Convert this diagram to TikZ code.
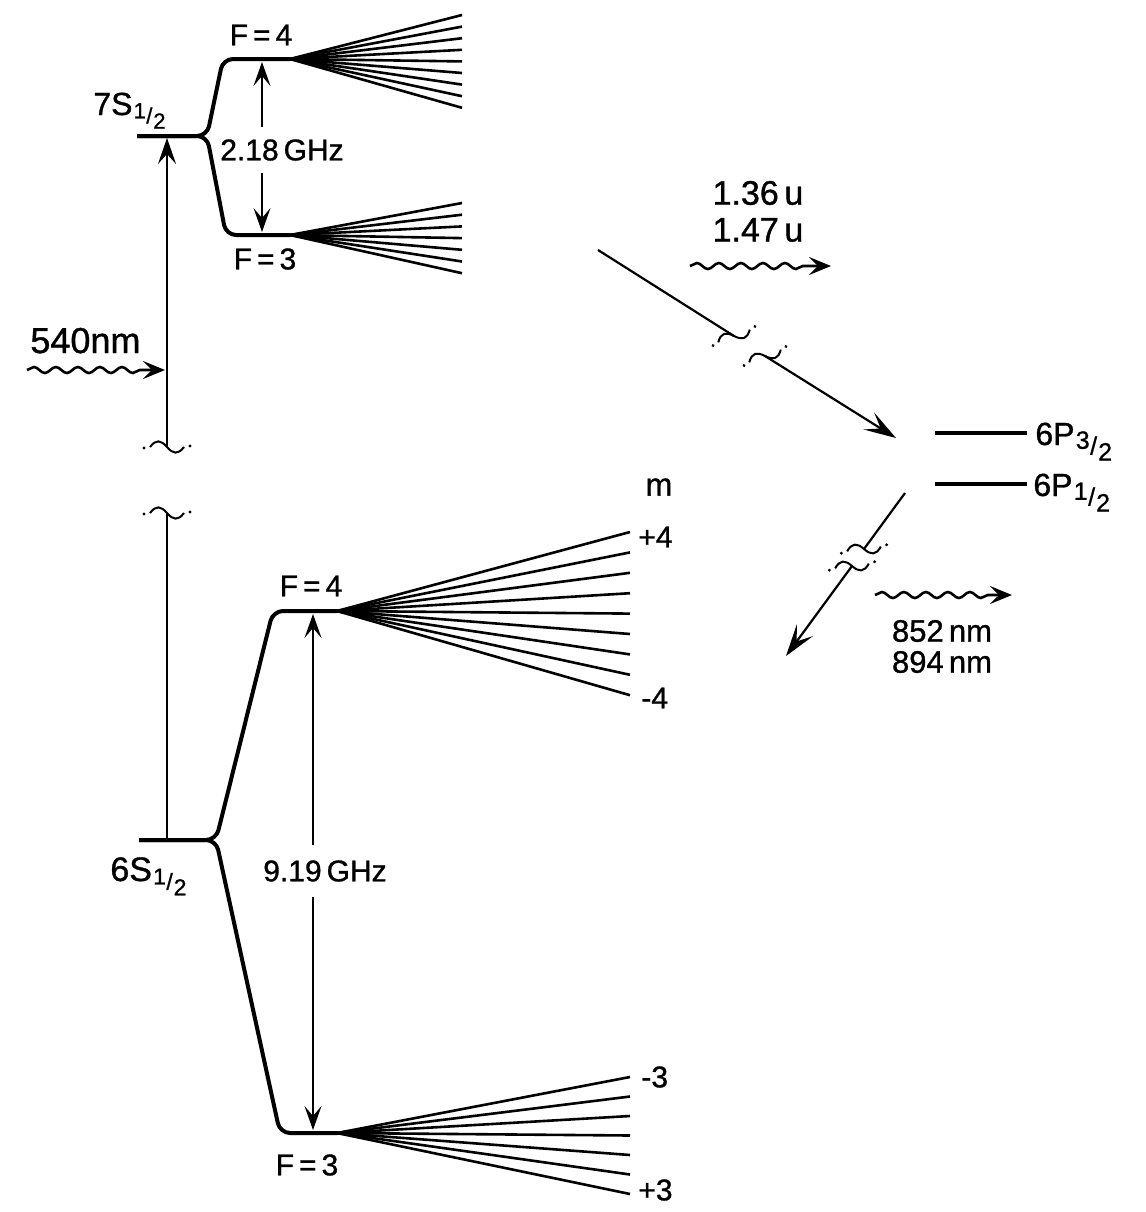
\documentclass[tikz,border=0pt]{standalone}
\usepackage{fontspec}
\setmainfont{Liberation Sans}[FakeBold=1]
\usetikzlibrary{arrows.meta,decorations.pathmorphing}

% slanted half-integer index: numerator just below the baseline, denominator lower
\newcommand\levfrac[3]{{\fontsize{#3}{#3}\selectfont\kern0.05em\raisebox{-0.15em}{#1}\kern0.02em\raisebox{-0.38em}{/}\kern0.04em\raisebox{-0.62em}{#2}}}

\tikzset{
  gapmark/.pic={
    \draw[line width=1pt] (-17,0) .. controls (-11,-8) and (-6,-7) .. (0,0)
                                  .. controls (6,7) and (11,8) .. (17,0);
    \fill (-23,1) circle[radius=0.8pt];
    \fill (23,-1) circle[radius=0.8pt];
  }
}

\begin{document}
\begin{tikzpicture}[x=0.5pt,y=-0.5pt,
  level/.style={line width=2pt,line join=round,rounded corners=5pt},
  fan/.style={line width=1.3pt},
  shaft/.style={line width=1.1pt},
  tip/.style={-{Stealth[length=12pt,width=8.5pt,inset=5pt]}},
  bigtip/.style={-{Stealth[length=16pt,width=10pt,inset=7pt]}},
  photon/.style={line width=1.3pt,decorate,
    decoration={snake,amplitude=1.5pt,segment length=11pt,post length=11pt},
    -{Stealth[length=11pt,width=9pt,inset=4.5pt]}},
  lab/.style={inner sep=0pt,font=\fontsize{15pt}{18pt}\selectfont},
]
\useasboundingbox (0,0) rectangle (1146,1212);

% ---------- 7S_{1/2} and its hyperfine levels ----------
\coordinate (s7a) at (137,136);
\coordinate (s7b) at (207,136);
\coordinate (f74c) at (223,59);
\coordinate (f74) at (290,59);
\coordinate (f73c) at (226,235);
\coordinate (f73) at (290,235);
\draw[level] (s7a) -- (s7b) -- (f74c) -- (f74);
\draw[level] (s7a) -- (s7b) -- (f73c) -- (f73);
\foreach \i in {0,...,8} \draw[fan] (f74) -- (462,{15+\i*11.6});
\foreach \i in {0,...,6} \draw[fan] (f73) -- (462,{203+\i*11.7});

\node[lab,anchor=base west,font=\fontsize{16pt}{18pt}\selectfont] (l7s) at (93,115) {7S\levfrac{1}{2}{11pt}};
\node[lab] (f74lab) at (261,35) {F\,=\,4};
\node[lab] (f73lab) at (265,259) {F\,=\,3};

\node[lab,inner ysep=6pt] (g218) at (282,150) {2.18\,GHz};
\coordinate (a218t) at (262,62);
\coordinate (a218b) at (262,232);
\draw[shaft,tip] (g218.north -| a218t) -- (a218t);
\draw[shaft,tip] (g218.south -| a218b) -- (a218b);

% ---------- 6S_{1/2} and its hyperfine levels ----------
\coordinate (s6a) at (139,840);
\coordinate (s6b) at (216,840);
\coordinate (f64c) at (273,611);
\coordinate (f64) at (337,611);
\coordinate (f63c) at (280,1133);
\coordinate (f63) at (337,1133);
\draw[level] (s6a) -- (s6b) -- (f64c) -- (f64);
\draw[level] (s6a) -- (s6b) -- (f63c) -- (f63);
\foreach \i in {0,...,8} \draw[fan] (f64) -- (630,{532+\i*20.4});
\foreach \i in {0,...,6} \draw[fan] (f63) -- (630,{1077+\i*19.5});

\node[lab,anchor=base west,font=\fontsize{17pt}{18pt}\selectfont] (l6s) at (110,881) {6S\levfrac{1}{2}{11.5pt}};
\node[lab] (f64lab) at (311,586) {F\,=\,4};
\node[lab] (f63lab) at (307,1165) {F\,=\,3};

\node[lab,inner ysep=7.5pt] (g919) at (325,871) {9.19\,GHz};
\coordinate (a919t) at (313,614);
\coordinate (a919b) at (313,1130);
\draw[shaft,tip] (g919.north -| a919t) -- (a919t);
\draw[shaft,tip] (g919.south -| a919b) -- (a919b);

% magnetic sublevels
\node[lab,font=\fontsize{16pt}{18pt}\selectfont] (mlab) at (659,487) {m};
\node[lab,anchor=west] (mp4) at (638,537) {+4};
\node[lab,anchor=west] (mm4) at (641,698) {-4};
\node[lab,anchor=west] (mm3) at (641,1077) {-3};
\node[lab,anchor=west] (mp3) at (638,1190) {+3};

% ---------- 540 nm excitation (broken scale) ----------
\coordinate (pumpb) at (167,840);
\coordinate (gapl) at (167,513);
\coordinate (gapu) at (167,447);
\coordinate (pumpt) at (167,138);
\draw[shaft] (pumpb) -- (gapl);
\draw[shaft,-{Stealth[length=13pt,width=9pt,inset=5pt]}] (gapu) -- (pumpt);
\pic at (gapu) {gapmark};
\pic at (gapl) {gapmark};

\node[lab,anchor=base west,font=\fontsize{18pt}{20pt}\selectfont] (l540) at (30,353) {540nm};
\coordinate (w540a) at (27,370);
\coordinate (w540b) at (165,370);
\draw[photon] (w540a) -- (w540b);

% ---------- 6P levels ----------
\coordinate (p32a) at (935,433);
\coordinate (p32b) at (1027,433);
\coordinate (p12a) at (935,484);
\coordinate (p12b) at (1027,484);
\draw[level] (p32a) -- (p32b);
\draw[level] (p12a) -- (p12b);
\node[lab,anchor=base west,font=\fontsize{16pt}{18pt}\selectfont] (l6p32) at (1035,445) {6P\levfrac{3}{2}{12.5pt}};
\node[lab,anchor=base west,font=\fontsize{16pt}{18pt}\selectfont] (l6p12) at (1033,496) {6P\levfrac{1}{2}{12.5pt}};

% 7S -> 6P decay (broken)
\coordinate (d1s) at (598,250);
\coordinate (d1u) at (734,336);
\coordinate (d1l) at (765,356);
\coordinate (d1e) at (896,438);
\draw[shaft] (d1s) -- (d1u);
\draw[shaft,bigtip] (d1l) -- (d1e);
\pic[rotate=22] at (d1u) {gapmark};
\pic[rotate=22] at (d1l) {gapmark};

\node[lab,font=\fontsize{17pt}{18pt}\selectfont] (l136) at (758,193) {1.36\,u};
\node[lab,font=\fontsize{17pt}{18pt}\selectfont] (l147) at (758,230) {1.47\,u};
\coordinate (w1a) at (690,266);
\coordinate (w1b) at (831,266);
\draw[photon] (w1a) -- (w1b);

% 6P -> 6S decay (broken)
\coordinate (d2s) at (905,493);
\coordinate (d2u) at (864,549);
\coordinate (d2l) at (852,566);
\coordinate (d2e) at (786,656);
\draw[shaft] (d2s) -- (d2u);
\draw[shaft,bigtip] (d2l) -- (d2e);
\pic[rotate=8] at (d2u) {gapmark};
\pic[rotate=8] at (d2l) {gapmark};

\coordinate (w2a) at (875,595);
\coordinate (w2b) at (1012,595);
\draw[photon] (w2a) -- (w2b);
\node[lab,font=\fontsize{15.5pt}{18pt}\selectfont] (l852) at (942,631) {852\,nm};
\node[lab,font=\fontsize{15.5pt}{18pt}\selectfont] (l894) at (942,662) {894\,nm};
\end{tikzpicture}
\end{document}
